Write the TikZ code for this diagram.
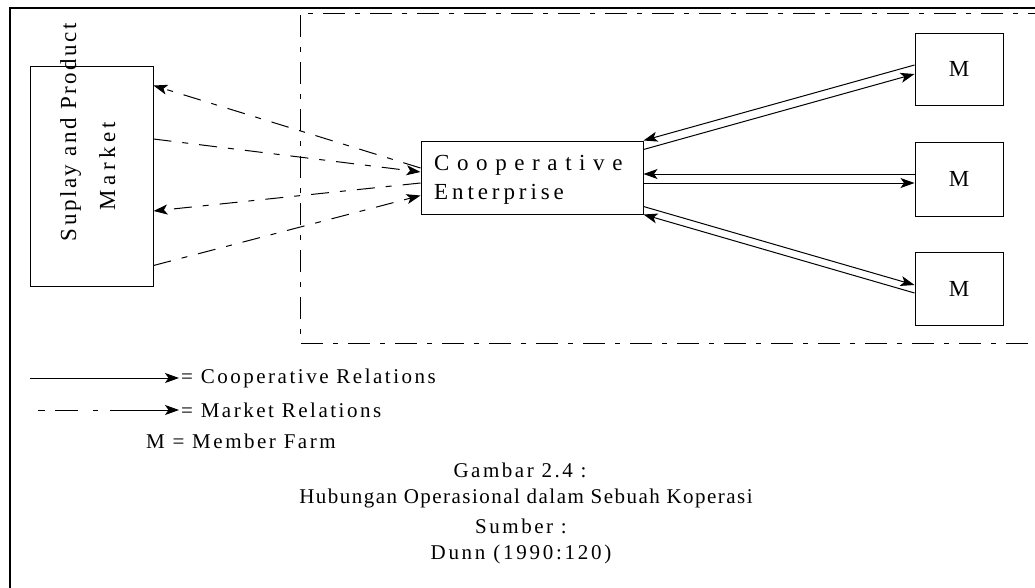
\documentclass[tikz,border=0pt]{standalone}
\usepackage{fontspec}
\setmainfont{Liberation Serif}
\usetikzlibrary{arrows.meta}
\newcommand{\spc}[1]{\addfontfeatures{LetterSpace=#1}}
\begin{document}
\begin{tikzpicture}[x=1pt,y=-1pt,
  box/.style={draw, line width=1pt, inner sep=0pt},
  rel/.style={line width=1pt, -{Stealth[length=14pt,width=10pt,inset=3.5pt]}},
  mkt/.style={rel, dash pattern=on 18pt off 11pt on 6pt off 11pt},
  big/.style={inner sep=0pt, font=\fontsize{23}{27}\selectfont},
  txt/.style={inner sep=0pt, font=\fontsize{21}{25}\selectfont},
  ]
\clip (0,0) rectangle (1035,587);
\fill[white] (0,0) rectangle (1035,587);

% outer frame and the dashed cooperative boundary
\draw[line width=1.5pt] (10,600) -- (10,8) -- (1050,8);
\draw[line width=1pt, dash pattern=on 22pt off 10pt on 5pt off 10pt]
  (1050,13) -- (300,13) -- (300,343) -- (1050,343);

% boxes
\node[box, minimum width=123pt, minimum height=220pt] (mk) at (91.5,176) {};
\node[big, rotate=90, anchor=base] (mkA) at (76,132) {\spc{11}Suplay and Product};
\node[big, rotate=90, anchor=base] (mkB) at (115,166) {\spc{19}Market};

\node[box, minimum width=222pt, minimum height=73pt] (coop) at (532,177.5) {};
\node[big, anchor=base west] (coopA) at (434,170) {\spc{33}Cooperative};
\node[big, anchor=base west] (coopB) at (434,199) {\spc{17}Enterprise};

\node[box, big, minimum width=88pt, minimum height=72pt] (m1) at (959,69) {M};
\node[box, big, minimum width=88pt, minimum height=74pt] (m2) at (959,179) {M};
\node[box, big, minimum width=88pt, minimum height=73pt] (m3) at (959,288.5) {M};

% cooperative relations
\draw[rel] ([yshift=4pt]m1.west) -- (coop.north east);
\draw[rel] ([yshift=-9pt]coop.north east) -- ([yshift=-5pt]m1.west);
\draw[rel] ([yshift=5pt]m2.west) -- ([yshift=3.5pt]coop.east);
\draw[rel] ([yshift=-5.5pt]coop.east) -- ([yshift=-4pt]m2.west);
\draw[rel] ([yshift=8pt]coop.south east) -- ([yshift=3.5pt]m3.west);
\draw[rel] ([yshift=-4.5pt]m3.west) -- (coop.south east);

% market relations
\draw[mkt] ([yshift=9.5pt]coop.west) -- ([yshift=-20pt]mk.north east);
\draw[mkt] ([yshift=37pt]mk.east) -- ([yshift=5.5pt]coop.west);
\draw[mkt] ([yshift=-5.5pt]coop.west) -- ([yshift=-35pt]mk.east);
\draw[mkt] ([yshift=21pt]mk.south east) -- ([yshift=19pt]coop.south west);

% legend
\node[txt, anchor=west] (lg1) at (181,378) {\spc{12}= Cooperative Relations};
\node[txt, anchor=west] (lg2) at (181,410) {\spc{12}= Market Relations};
\node[txt, anchor=west] (lg3) at (146,441) {\spc{12}M = Member Farm};
\coordinate (l1) at (30,378);
\coordinate (l2) at (38,410);
\draw[rel] (l1) -- ([xshift=-2pt]lg1.west);
\draw[rel, dash pattern=on 7pt off 10pt on 23pt off 15pt on 5pt off 12pt on 90pt off 1pt] (l2) -- ([xshift=-2pt]lg2.west);

% caption
\node[txt] (c1) at (520,470) {\spc{12}Gambar 2.4 :};
\node[txt] (c2) at (526,498) {\spc{7}Hubungan Operasional dalam Sebuah Koperasi};
\node[txt] (c3) at (521,526) {\spc{12}Sumber :};
\node[txt] (c4) at (521,554) {\spc{13}Dunn (1990:120)};
\end{tikzpicture}
\end{document}
